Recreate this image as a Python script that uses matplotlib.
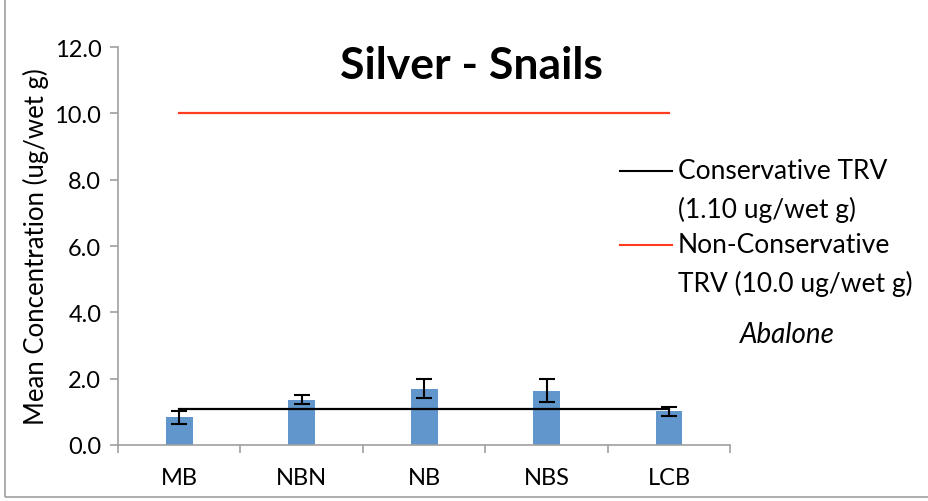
import matplotlib
matplotlib.use("Agg")
import matplotlib.pyplot as plt
from matplotlib.lines import Line2D
from matplotlib.patches import Rectangle

plt.rcParams['font.family'] = ['Lato', 'DejaVu Sans']

# site means and error bars (ug/wet g)
sites = ['MB', 'NBN', 'NB', 'NBS', 'LCB']
means = [0.83, 1.37, 1.70, 1.64, 1.01]
errors = [0.21, 0.13, 0.29, 0.35, 0.14]

# toxicity reference values
conservative_trv = 1.10
non_conservative_trv = 10.0
legend_lines = [['Conservative TRV', '(1.10 ug/wet g)'],
                ['Non-Conservative', 'TRV (10.0 ug/wet g)']]
trv_colors = ['black', '#FF3B1F']

fig = plt.figure(figsize=(9.29, 5.02), dpi=100)
ax = fig.add_axes([0.127, 0.1116, 0.659, 0.7924])

x = list(range(len(sites)))
ax.bar(x, means, width=0.22, color='#6096CB', zorder=2)
ax.errorbar(x, means, yerr=errors, fmt='none', ecolor='black',
            elinewidth=1.5, capsize=5.5, capthick=1.5, zorder=3)

ax.plot([x[0], x[-1]], [conservative_trv] * 2, color=trv_colors[0], lw=1.6, zorder=4)
ax.plot([x[0], x[-1]], [non_conservative_trv] * 2, color=trv_colors[1], lw=1.6, zorder=4)

ax.set_xlim(-0.5, len(sites) - 0.5)
ax.set_ylim(0, 12)
ax.set_yticks([0, 2, 4, 6, 8, 10, 12])
ax.set_yticklabels(['0.0', '2.0', '4.0', '6.0', '8.0', '10.0', '12.0'], fontsize=17)
ax.set_xticks(x)
ax.set_xticklabels(sites, fontsize=17)
ax.tick_params(axis='x', length=0, pad=16)
ax.set_xticks([i - 0.5 for i in range(len(sites) + 1)], minor=True)
ax.tick_params(axis='x', which='minor', length=6, color='#A0A0A0', width=1.2)
ax.tick_params(axis='y', length=6, color='#A0A0A0', width=1.2, pad=6)

for s in ['top', 'right']:
    ax.spines[s].set_visible(False)
for s in ['left', 'bottom']:
    ax.spines[s].set_color('#A0A0A0')
    ax.spines[s].set_linewidth(1.2)

ax.set_ylabel('Mean Concentration (ug/wet g)', fontsize=18.5, labelpad=4)

fig.text(0.508, 0.842, 'Silver - Snails', fontsize=32, fontweight='bold',
         ha='center', va='baseline')

# legend drawn by hand: handle sits beside the first line of each label
W, H = 929, 502
entry_y = [172, 246]
for (first, second), col, yy in zip(legend_lines, trv_colors, entry_y):
    fig.lines.append(Line2D([620 / W, 672 / W], [1 - yy / H] * 2, color=col, lw=1.5,
                            transform=fig.transFigure))
    fig.text(678 / W, 1 - yy / H, first, fontsize=19, ha='left', va='center')
    fig.text(678 / W, 1 - (yy + 38) / H, second, fontsize=19, ha='left', va='center')

fig.text(0.848, 1 - 335 / H, 'Abalone', fontsize=20, fontstyle='italic', ha='center', va='center')

# outer chart frame
fig.patches.append(Rectangle((0.005, 0.008), 1.2, 1.2, transform=fig.transFigure,
                             fill=False, edgecolor='#A0A0A0', lw=1.2))

fig.savefig('out.png', dpi=100)
